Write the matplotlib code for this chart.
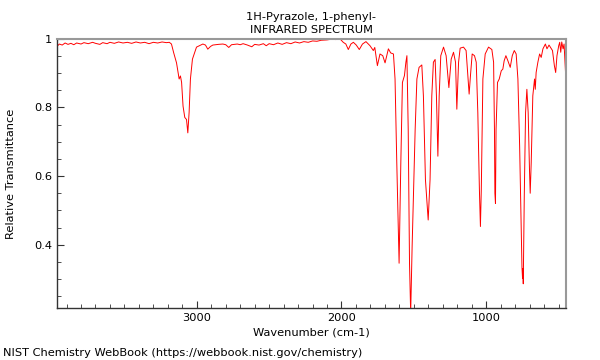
import matplotlib
matplotlib.use('Agg')
import matplotlib.pyplot as plt
from matplotlib.ticker import MultipleLocator, FixedLocator
import numpy as np

title_lines = ['1H-Pyrazole, 1-phenyl-', 'INFRARED SPECTRUM']
footer = 'NIST Chemistry WebBook (https://webbook.nist.gov/chemistry)'

# wavenumber (cm-1)
wavenumber = [3966, 3950, 3930, 3910, 3890, 3870, 3850, 3830, 3800, 3780,
              3750, 3720, 3700, 3670, 3650, 3620, 3600, 3570, 3540, 3510,
              3480, 3450, 3420, 3390, 3360, 3330, 3300, 3270, 3240, 3210,
              3190, 3175, 3160, 3140, 3122, 3113, 3105, 3095, 3083, 3071,
              3062, 3053, 3044, 3030, 3002, 2958, 2940, 2924, 2905, 2889,
              2850, 2820, 2800, 2779, 2760, 2720, 2700, 2680, 2650, 2620,
              2600, 2570, 2540, 2520, 2500, 2470, 2440, 2410, 2380, 2350,
              2320, 2290, 2260, 2230, 2200, 2170, 2140, 2100, 2070, 2040,
              2010, 1988, 1970, 1953, 1935, 1918, 1898, 1877, 1855, 1831,
              1803, 1780, 1770, 1752, 1734, 1715, 1699, 1676, 1660, 1641,
              1630, 1618, 1602, 1590, 1579, 1565, 1555, 1548, 1539, 1530,
              1522, 1512, 1503, 1491, 1479, 1464, 1445, 1434, 1420, 1401,
              1388, 1376, 1365, 1353, 1344, 1334, 1325, 1314, 1295, 1277,
              1258, 1242, 1226, 1212, 1203, 1191, 1180, 1157, 1139, 1127,
              1118, 1109, 1097, 1081, 1069, 1058, 1047, 1040, 1034, 1023,
              1007, 984, 961, 949, 943, 940, 936, 932, 922, 910,
              896, 885, 876, 864, 850, 834, 820, 806, 793, 781,
              769, 758, 753, 749, 746, 744, 737, 728, 719, 710,
              701, 696, 689, 678, 666, 661, 655, 643, 631, 620,
              608, 591, 580, 566, 557, 542, 529, 520, 511, 499,
              492, 485, 478, 469, 462, 452]

transmittance = [0.978, 0.985, 0.982, 0.988, 0.984, 0.987, 0.983, 0.988, 0.985, 0.989,
                 0.986, 0.990, 0.987, 0.984, 0.989, 0.986, 0.990, 0.987, 0.991, 0.988,
                 0.990, 0.987, 0.991, 0.988, 0.990, 0.986, 0.990, 0.988, 0.991, 0.989,
                 0.990, 0.985, 0.960, 0.930, 0.883, 0.892, 0.873, 0.804, 0.771, 0.765,
                 0.726, 0.786, 0.883, 0.941, 0.976, 0.985, 0.982, 0.970, 0.978, 0.982,
                 0.984, 0.985, 0.983, 0.975, 0.983, 0.985, 0.983, 0.986, 0.982, 0.977,
                 0.984, 0.982, 0.986, 0.980, 0.986, 0.983, 0.988, 0.984, 0.989, 0.986,
                 0.991, 0.988, 0.992, 0.990, 0.994, 0.993, 0.996, 0.997, 0.999, 0.998,
                 1.000, 0.990, 0.985, 0.969, 0.985, 0.990, 0.982, 0.969, 0.985, 0.992,
                 0.980, 0.966, 0.975, 0.922, 0.956, 0.951, 0.930, 0.971, 0.959, 0.956,
                 0.883, 0.639, 0.346, 0.640, 0.873, 0.893, 0.932, 0.951, 0.736, 0.346,
                 0.200, 0.394, 0.540, 0.736, 0.883, 0.917, 0.924, 0.834, 0.590, 0.472,
                 0.590, 0.834, 0.932, 0.940, 0.834, 0.658, 0.834, 0.951, 0.976, 0.951,
                 0.858, 0.941, 0.961, 0.932, 0.795, 0.932, 0.973, 0.976, 0.966, 0.892,
                 0.839, 0.892, 0.956, 0.951, 0.932, 0.785, 0.560, 0.453, 0.560, 0.883,
                 0.956, 0.976, 0.969, 0.932, 0.736, 0.550, 0.520, 0.736, 0.873, 0.883,
                 0.907, 0.912, 0.936, 0.951, 0.936, 0.917, 0.951, 0.966, 0.956, 0.883,
                 0.687, 0.443, 0.335, 0.302, 0.330, 0.286, 0.540, 0.785, 0.853, 0.785,
                 0.619, 0.550, 0.639, 0.834, 0.883, 0.853, 0.902, 0.932, 0.956, 0.946,
                 0.971, 0.985, 0.971, 0.982, 0.976, 0.966, 0.922, 0.902, 0.951, 0.980,
                 0.990, 0.961, 0.991, 0.971, 0.985, 0.903]

fig = plt.figure(figsize=(6, 3.6), dpi=100)
ax = fig.add_axes([0.095, 0.144, 0.848, 0.748])

ax.plot(wavenumber, transmittance, color='#ff0000', lw=0.7)

ax.set_xlim(3966, 450)
ax.set_ylim(0.215, 1.0)
ax.xaxis.set_major_locator(FixedLocator([3000, 2000, 1000]))
ax.xaxis.set_minor_locator(MultipleLocator(100))
ax.yaxis.set_major_locator(FixedLocator([0.4, 0.6, 0.8, 1.0]))
ax.yaxis.set_minor_locator(MultipleLocator(0.05))
ax.set_yticklabels(['0.4', '0.6', '0.8', '1'])

fs = 8.2
ax.tick_params(which='both', direction='in', labelsize=fs, color='#333333')
ax.tick_params(which='major', length=5)
ax.tick_params(which='minor', length=3)

for s in ['left', 'bottom']:
    ax.spines[s].set_color('#333333')
    ax.spines[s].set_linewidth(1)
for s in ['top', 'right']:
    ax.spines[s].set_color('#999999')
    ax.spines[s].set_linewidth(1.5)

ax.set_xlabel('Wavenumber (cm-1)', fontsize=fs, labelpad=3)
ax.set_ylabel('Relative Transmittance', fontsize=fs, labelpad=13)
ax.set_title('\n'.join(title_lines), fontsize=fs, linespacing=1.45, pad=4)

fig.text(0.005, 0.005, footer, fontsize=fs, ha='left', va='bottom')

fig.savefig('out.png', dpi=100)
